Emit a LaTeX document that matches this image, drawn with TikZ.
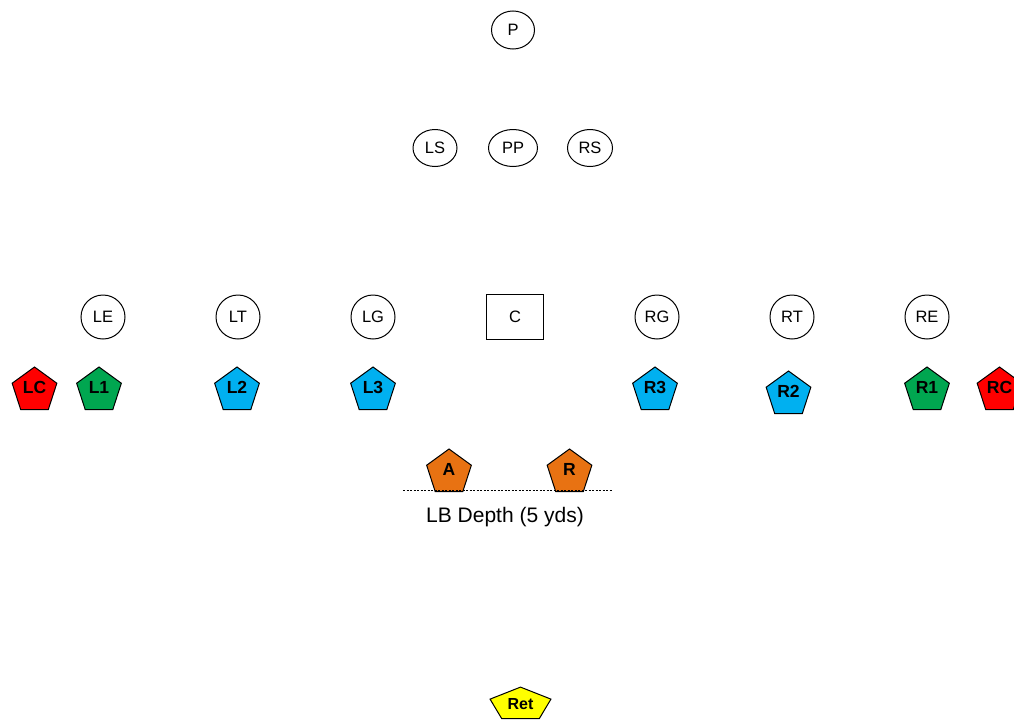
\documentclass[tikz,border=0pt]{standalone}
\usepackage{fontspec}
\setmainfont{Liberation Sans}
\usetikzlibrary{shapes.geometric, positioning}

\definecolor{rojo}{RGB}{255,0,0}
\definecolor{verde}{RGB}{0,166,80}
\definecolor{azul}{RGB}{0,176,240}
\definecolor{naranja}{RGB}{232,114,18}
\definecolor{amarillo}{RGB}{255,255,0}

\begin{document}
\begin{tikzpicture}[
		x=1pt, y=-1pt,
		% Estilos de los jugadores
		ofe/.style = {draw, circle, minimum size=44pt, inner sep=0pt, line width=1pt, font=\fontsize{16.5}{18}\selectfont},
		ofe_top/.style = {draw, ellipse, minimum width=44pt, minimum height=37pt, inner sep=0pt, line width=1pt, font=\fontsize{16.5}{18}\selectfont},
		snap/.style = {draw, rectangle, minimum width=57pt, minimum height=45pt, line width=1pt, font=\fontsize{16.5}{18}\selectfont},
		def/.style = {draw, regular polygon, regular polygon sides=5, minimum size=47pt, inner sep=0pt, text depth=6pt, line width=1pt, font=\fontsize{17.5}{19}\selectfont\bfseries},
		on grid
		]
		\useasboundingbox (0,0) rectangle (1014,720);
		
		% --- LINEA OFENSIVA ---
		\node [snap] (c) at (515,317) {C};
		\node [ofe, left=142pt of c] (lg) {LG};
		\node [ofe, left=135pt of lg] (lt) {LT};
		\node [ofe, left=135pt of lt] (le) {LE};
		\node [ofe, right=142pt of c] (rg) {RG};
		\node [ofe, right=135pt of rg] (rt) {RT};
		\node [ofe, right=135pt of rt] (re) {RE};
		
		% --- PROTECCION Y PATEADOR ---
		\node [ofe_top, above=169pt of c, xshift=-2pt, minimum width=49pt] (pp) {PP};
		\node [ofe_top, left=78pt of pp] (ls) {LS};
		\node [ofe_top, right=77pt of pp, minimum width=45pt] (rs) {RS};
		\node [ofe_top, above=118pt of pp, minimum width=43pt, minimum height=38pt] (p) {P};
		
		% --- LINEA DEFENSIVA ---
		\node [def, fill=azul, below=73.5pt of lg] (l3) {L3};
		\node [def, fill=azul, below=73.5pt of lt, xshift=-1pt] (l2) {L2};
		\node [def, fill=verde, below=73.5pt of le, xshift=-4pt] (l1) {L1};
		\node [def, fill=rojo, left=64.5pt of l1] (lc) {LC};
		\node [def, fill=azul, below=73.5pt of rg, xshift=-2pt] (r3) {R3};
		\node [def, fill=azul, below=77.5pt of rt, xshift=-3.5pt] (r2) {R2};
		\node [def, fill=verde, below=73.5pt of re] (r1) {R1};
		\node [def, fill=rojo, right=72.5pt of r1] (rc) {RC};
		
		% --- LINEBACKERS ---
		\node [def, fill=naranja] (a) at (449,472.5) {A};
		\node [def, fill=naranja, right=120.5pt of a] (r) {R};
		\coordinate (lb_izq) at (403,490);
		\coordinate (lb_der) at (612,490);
		\draw [line width=0.8pt, dash pattern=on 2pt off 1.5pt] (lb_izq) -- (lb_der);
		\node [font=\fontsize{21}{24}\selectfont] (lb_txt) at (505,517) {LB Depth (5 yds)};
		
		% --- RETORNADOR ---
		\node [def, fill=amarillo, minimum size=34.8pt, text depth=0pt, xscale=1.84] (ret) at (520.5,704.5) {};
		\node [font=\fontsize{16}{18}\selectfont\bfseries] (ret_txt) at (ret.center) {Ret};
		
	\end{tikzpicture}
\end{document}
